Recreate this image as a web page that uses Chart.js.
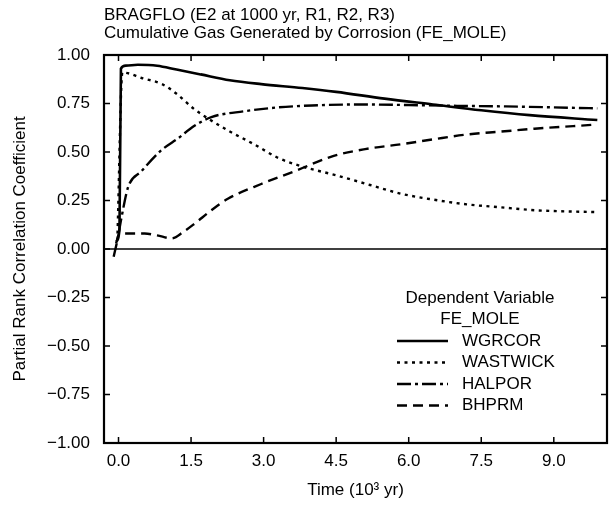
<!DOCTYPE html>
<html>
<head>
<meta charset="utf-8">
<script src="https://cdn.jsdelivr.net/npm/chart.js@4"></script>
<style>
  html, body { margin: 0; padding: 0; background: #fff; }
</style>
</head>
<body>
<canvas id="prccChart" width="613" height="507"></canvas>
<script>
// values (time in 10^3 yr, PRCC)
const wgrcorT = [-0.05, 0.02, 0.05, 0.15, 0.4, 0.8, 1.2, 1.7, 2.3, 2.95, 3.8, 4.5, 5.5, 6.5, 7.5, 8.5, 9.9];
const wgrcorV = [0.04, 0.1, 0.93, 0.945, 0.95, 0.945, 0.925, 0.9, 0.87, 0.85, 0.83, 0.81, 0.775, 0.745, 0.715, 0.69, 0.665];

const wastwickT = [-0.02, 0.08, 0.5, 0.9, 1.2, 1.57, 1.9, 2.27, 2.8, 3.3, 3.8, 4.5, 5.2, 5.84, 6.5, 7.2, 7.9, 8.6, 9.9];
const wastwickV = [0.08, 0.91, 0.88, 0.85, 0.8, 0.72, 0.665, 0.61, 0.54, 0.47, 0.425, 0.38, 0.33, 0.285, 0.255, 0.23, 0.215, 0.2, 0.19];

const halporT = [-0.1, -0.02, 0.06, 0.2, 0.47, 0.89, 1.23, 1.57, 1.92, 2.6, 3.3, 4.0, 5.0, 6.0, 7.0, 8.0, 9.0, 9.9];
const halporV = [-0.04, 0.05, 0.16, 0.32, 0.4, 0.51, 0.57, 0.635, 0.68, 0.71, 0.73, 0.74, 0.745, 0.742, 0.738, 0.735, 0.73, 0.725];

const bhprmT = [-0.05, 0.02, 0.3, 0.54, 0.8, 1.1, 1.35, 1.57, 1.92, 2.27, 2.95, 3.63, 4.45, 5.1, 5.84, 6.5, 7.2, 7.9, 8.6, 9.8];
const bhprmV = [0.03, 0.08, 0.08, 0.08, 0.07, 0.055, 0.09, 0.13, 0.2, 0.26, 0.335, 0.4, 0.48, 0.515, 0.54, 0.565, 0.59, 0.605, 0.62, 0.64];

const xTicks = [0.0, 1.5, 3.0, 4.5, 6.0, 7.5, 9.0];
const yTicks = [-1.0, -0.75, -0.5, -0.25, 0.0, 0.25, 0.5, 0.75, 1.0];

const titleLines = ["BRAGFLO (E2 at 1000 yr, R1, R2, R3)", "Cumulative Gas Generated by Corrosion (FE_MOLE)"];
const legendTitle = ["Dependent Variable", "FE_MOLE"];

const FONT = '"Liberation Sans", Arial, Helvetica, sans-serif';
Chart.defaults.font.family = FONT;
Chart.defaults.font.size = 17;
Chart.defaults.color = "#000";

function pts(ts, vs) {
    return ts.map((t, i) => ({ x: t, y: vs[i] }));
}

function series(label, ts, vs, dash, width) {
    return {
        label: label,
        data: pts(ts, vs),
        borderColor: "#000",
        borderWidth: width,
        borderDash: dash,
        pointRadius: 0,
        fill: false,
        cubicInterpolationMode: "monotone"
    };
}

// frame, inward ticks on all four sides, zero line, title and the boxed-free legend
const framePlugin = {
    id: "frame",
    afterDatasetsDraw(chart) {
        const ctx = chart.ctx;
        const a = chart.chartArea;
        const xs = chart.scales.x, ys = chart.scales.y;
        ctx.save();
        ctx.strokeStyle = "#000";
        ctx.setLineDash([]);

        // zero line
        ctx.lineWidth = 1.5;
        const y0 = ys.getPixelForValue(0);
        ctx.beginPath();
        ctx.moveTo(a.left, y0);
        ctx.lineTo(a.right, y0);
        ctx.stroke();

        // ticks
        ctx.lineWidth = 1.5;
        const tl = 6;
        ctx.beginPath();
        xTicks.forEach(v => {
            const px = xs.getPixelForValue(v);
            ctx.moveTo(px, a.bottom); ctx.lineTo(px, a.bottom - tl);
            ctx.moveTo(px, a.top); ctx.lineTo(px, a.top + tl);
        });
        yTicks.forEach(v => {
            const py = ys.getPixelForValue(v);
            ctx.moveTo(a.left, py); ctx.lineTo(a.left + tl, py);
            ctx.moveTo(a.right, py); ctx.lineTo(a.right - tl, py);
        });
        ctx.stroke();

        // frame
        ctx.lineWidth = 2.2;
        ctx.strokeRect(a.left, a.top, a.right - a.left, a.bottom - a.top);

        // title
        ctx.fillStyle = "#000";
        ctx.font = "17px " + FONT;
        ctx.textAlign = "left";
        ctx.textBaseline = "alphabetic";
        ctx.fillText(titleLines[0], a.left, 20);
        ctx.fillText(titleLines[1], a.left, 37.5);

        // legend
        const cx = a.right - 127;
        ctx.textAlign = "center";
        ctx.textBaseline = "middle";
        ctx.fillText(legendTitle[0], cx, a.bottom - 145);
        ctx.fillText(legendTitle[1], cx, a.bottom - 124);
        ctx.textAlign = "left";
        chart.data.datasets.forEach((ds, i) => {
            const ly = a.bottom - 102 + i * 21.5;
            ctx.lineWidth = ds.borderWidth;
            ctx.setLineDash(ds.borderDash || []);
            ctx.beginPath();
            ctx.moveTo(a.right - 210, ly);
            ctx.lineTo(a.right - 159, ly);
            ctx.stroke();
            ctx.setLineDash([]);
            ctx.fillText(ds.label, a.right - 145, ly);
        });
        ctx.restore();
    }
};

new Chart(document.getElementById("prccChart").getContext("2d"), {
    type: "line",
    data: {
        datasets: [
            series("WGRCOR", wgrcorT, wgrcorV, [], 2.6),
            series("WASTWICK", wastwickT, wastwickV, [3, 4.5], 2.4),
            series("HALPOR", halporT, halporV, [14, 4, 3, 4], 2.4),
            series("BHPRM", bhprmT, bhprmV, [10, 6], 2.4)
        ]
    },
    options: {
        responsive: false,
        animation: false,
        devicePixelRatio: 1,
        layout: { padding: { top: 55, right: 6, left: 0, bottom: 0 } },
        plugins: {
            legend: { display: false },
            tooltip: { enabled: false }
        },
        scales: {
            x: {
                type: "linear",
                min: -0.3,
                max: 10.1,
                grid: { display: false, drawTicks: false },
                border: { display: false },
                afterBuildTicks: (scale) => { scale.ticks = xTicks.map(v => ({ value: v })); },
                afterFit: (scale) => { scale.height = 64; },
                ticks: {
                    padding: 8,
                    maxRotation: 0,
                    callback: (v) => Number(v).toFixed(1)
                },
                title: {
                    display: true,
                    text: "Time (10\u00b3 yr)",
                    padding: { top: 0, bottom: 6 }
                }
            },
            y: {
                min: -1,
                max: 1,
                grid: { display: false, drawTicks: false },
                border: { display: false },
                afterBuildTicks: (scale) => { scale.ticks = yTicks.map(v => ({ value: v })); },
                afterFit: (scale) => { scale.width = 104; },
                ticks: {
                    padding: 14,
                    callback: (v) => (v < 0 ? "\u2212" : "") + Math.abs(v).toFixed(2)
                },
                title: {
                    display: true,
                    text: "Partial Rank Correlation Coefficient",
                    padding: { top: 10, bottom: 0 }
                }
            }
        }
    },
    plugins: [framePlugin]
});
</script>
</body>
</html>
